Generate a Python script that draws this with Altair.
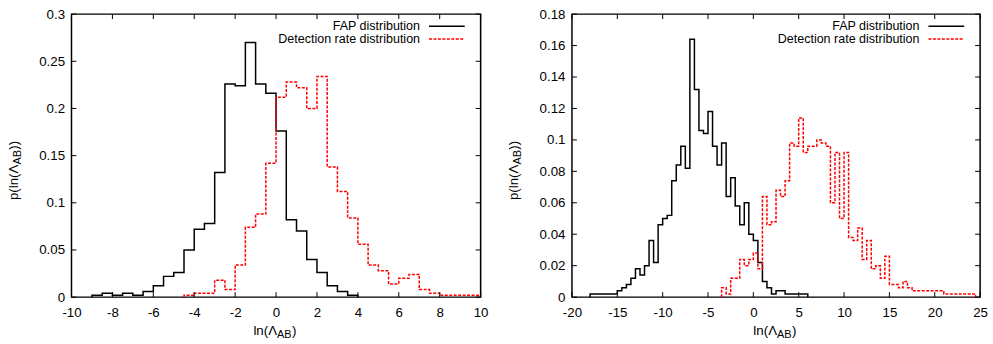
import altair as alt
import pandas as pd

BIN = 0.5

# Left panel histograms (bin width 0.5)
L_fap_start = -9.0
L_fap = [0.002, 0.004, 0.002, 0.004, 0.002, 0.006, 0.012, 0.022, 0.026, 0.050,
         0.072, 0.078, 0.132, 0.226, 0.224, 0.270, 0.226, 0.216, 0.176, 0.082,
         0.070, 0.040, 0.026, 0.012, 0.006, 0.002]
L_det_start = -4.5
L_det = [0.002, 0.004, 0.004, 0.018, 0.008, 0.034, 0.074, 0.088, 0.142, 0.212,
         0.228, 0.222, 0.200, 0.234, 0.138, 0.112, 0.084, 0.056, 0.034, 0.028,
         0.014, 0.020, 0.024, 0.008, 0.004, 0.002, 0.002, 0.002, 0.002]

# Right panel histograms (bin width 0.5)
R_fap_start = -18.0
R_fap = [0.002, 0.002, 0.002, 0.002, 0.002, 0.002, 0.004, 0.006, 0.008, 0.012,
         0.018, 0.014, 0.020, 0.036, 0.022, 0.046, 0.050, 0.052, 0.074, 0.084,
         0.096, 0.082, 0.164, 0.132, 0.106, 0.104, 0.118, 0.096, 0.084, 0.098,
         0.064, 0.076, 0.058, 0.046, 0.060, 0.040, 0.036, 0.022, 0.010, 0.006,
         0.002, 0.004, 0.004, 0.002, 0.002, 0.002, 0.002, 0.002]
R_det_start = -3.5
R_det = [0.006, 0.002, 0.012, 0.012, 0.024, 0.020, 0.024, 0.028, 0.018, 0.064,
         0.046, 0.048, 0.068, 0.064, 0.074, 0.098, 0.096, 0.114, 0.092, 0.096,
         0.096, 0.100, 0.098, 0.096, 0.060, 0.092, 0.050, 0.092, 0.038, 0.036,
         0.044, 0.024, 0.036, 0.018, 0.020, 0.012, 0.026, 0.008, 0.008, 0.006,
         0.010, 0.006, 0.004, 0.004, 0.004, 0.004, 0.004, 0.004, 0.004, 0.002,
         0.002, 0.002, 0.002, 0.002, 0.002, 0.002]

L_xticks = [-10, -8, -6, -4, -2, 0, 2, 4, 6, 8, 10]
L_yticks = [0, 0.05, 0.1, 0.15, 0.2, 0.25, 0.3]
R_xticks = [-20, -15, -10, -5, 0, 5, 10, 15, 20, 25]
R_yticks = [0, 0.02, 0.04, 0.06, 0.08, 0.1, 0.12, 0.14, 0.16, 0.18]

legend_labels = ["FAP distribution", "Detection rate distribution"]
x_title = ["ln(Λ", "AB", ")"]
y_title = ["p(ln(Λ", "AB", "))"]

FONT = "Liberation Sans"
FS = 13.4
LFS = 12.6
SUB = 11
RED = "#ff0000"


def steps(start, vals):
    xs = [start] + [start + BIN * i for i in range(len(vals))] + [start + BIN * len(vals)]
    ys = [0.0] + list(vals) + [0.0]
    return pd.DataFrame({"x": xs, "y": ys, "i": list(range(len(xs)))})


def text_layer(txt, x, y, align="left", baseline="alphabetic", size=FS, angle=0):
    kw = dict(align=align, baseline=baseline, font=FONT, fontSize=size, color="black")
    if angle:
        kw["angle"] = angle
    return alt.Chart(pd.DataFrame({"t": [txt]})).mark_text(**kw).encode(
        text="t:N", x=alt.value(x), y=alt.value(y))


def panel(W, H, xdom, ydom, xticks, yticks, fap_df, det_df):
    xs = alt.Scale(domain=xdom, nice=False, zero=False)
    ys = alt.Scale(domain=ydom, nice=False, zero=False)
    lab = dict(labelFont=FONT, labelFontSize=FS, labelColor="black", tickSize=0,
               domain=False, grid=False, title=None, labelOverlap=False,
               labelExpr="'' + datum.value")
    xax = alt.Axis(values=xticks, labelPadding=9, labelFlush=False, **lab)
    yax = alt.Axis(values=yticks, labelPadding=7, **lab)

    frame = alt.Chart(pd.DataFrame({"a": [0]})).mark_rect(
        fill="white", stroke="black", strokeWidth=1.5).encode(
        x=alt.value(0), x2=alt.value(W), y=alt.value(0), y2=alt.value(H))

    fap = alt.Chart(fap_df).mark_line(interpolate="step-after", color="black",
                                      strokeWidth=1.5).encode(
        x=alt.X("x:Q", scale=xs, axis=xax),
        y=alt.Y("y:Q", scale=ys, axis=yax),
        order="i:Q")
    det = alt.Chart(det_df).mark_line(interpolate="step-after", color=RED,
                                      strokeWidth=1.5, strokeDash=[3, 1.5]).encode(
        x=alt.X("x:Q", scale=xs, axis=xax),
        y=alt.Y("y:Q", scale=ys, axis=yax),
        order="i:Q")
    xt = pd.DataFrame({"x": xticks})
    yt = pd.DataFrame({"y": yticks})
    tick = dict(color="black", strokeWidth=1)
    tb = alt.Chart(xt).mark_rule(**tick).encode(
        x=alt.X("x:Q", scale=xs, axis=xax), y=alt.value(H), y2=alt.value(H - 5))
    tt = alt.Chart(xt).mark_rule(**tick).encode(
        x=alt.X("x:Q", scale=xs, axis=xax), y=alt.value(0), y2=alt.value(5))
    tl = alt.Chart(yt).mark_rule(**tick).encode(
        y=alt.Y("y:Q", scale=ys, axis=yax), x=alt.value(0), x2=alt.value(5))
    tr = alt.Chart(yt).mark_rule(**tick).encode(
        y=alt.Y("y:Q", scale=ys, axis=yax), x=alt.value(W - 5), x2=alt.value(W))

    # legend
    leg1 = text_layer(legend_labels[0], W - 61, 12.0, align="right", baseline="middle", size=LFS)
    leg2 = text_layer(legend_labels[1], W - 61, 25.0, align="right", baseline="middle", size=LFS)
    ln1 = alt.Chart(pd.DataFrame({"a": [0]})).mark_rule(color="black", strokeWidth=1.5).encode(
        x=alt.value(W - 52), x2=alt.value(W - 16), y=alt.value(12.3))
    ln2 = alt.Chart(pd.DataFrame({"a": [0]})).mark_rule(color=RED, strokeWidth=1.5,
                                                     strokeDash=[3, 1.5]).encode(
        x=alt.value(W - 52), x2=alt.value(W - 16), y=alt.value(25.0))

    # x title with subscript
    cx = W / 2
    xb = H + 38.5
    xt1 = text_layer(x_title[0], cx + 1, xb, align="right")
    xt2 = text_layer(x_title[1], cx + 1, xb + 3, align="left", size=SUB)
    xt3 = text_layer(x_title[2], cx + 16, xb, align="left")

    # y title (rotated) with subscript
    cy = H / 2
    yb = -54
    yt1 = text_layer(y_title[0], yb, cy + 9, align="right", angle=270)
    yt2 = text_layer(y_title[1], yb + 3, cy + 9, align="left", size=SUB, angle=270)
    yt3 = text_layer(y_title[2], yb, cy - 6, align="left", angle=270)

    return alt.layer(frame, fap, det, tb, tt, tl, tr, leg1, leg2, ln1, ln2,
                     xt1, xt2, xt3, yt1, yt2, yt3).properties(width=W, height=H)


left = panel(412, 285, [-10, 10], [0, 0.3], L_xticks, L_yticks,
             steps(L_fap_start, L_fap), steps(L_det_start, L_det))
right = panel(411, 285, [-20, 25], [0, 0.18], R_xticks, R_yticks,
              steps(R_fap_start, R_fap), steps(R_det_start, R_det))

chart = alt.hconcat(left, right, spacing=18).properties(
    padding={"left": 6, "top": 5, "right": 5, "bottom": 5}
).configure_view(stroke=None).configure(background="white")

chart.save("out.html", embed_options={"renderer": "svg", "actions": False})
